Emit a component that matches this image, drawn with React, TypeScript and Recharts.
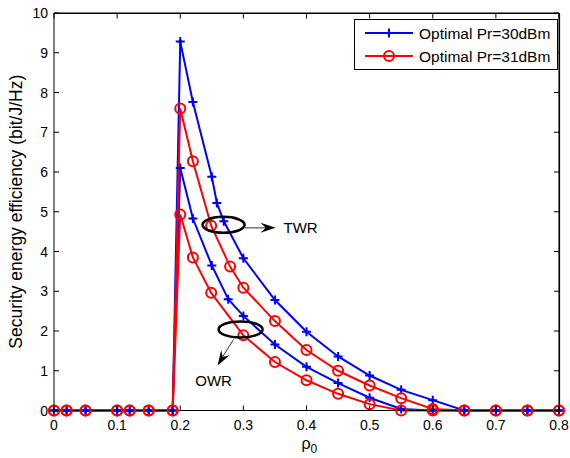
import React from "react";
import { LineChart, Line, XAxis, YAxis, ReferenceDot, CartesianGrid } from "recharts";

// valori letti a occhio dalla figura originale
const xTicks = [0, 0.1, 0.2, 0.3, 0.4, 0.5, 0.6, 0.7, 0.8];
const yTicks = [0, 1, 2, 3, 4, 5, 6, 7, 8, 9, 10];

const xBlueTwr = [0, 0.02, 0.05, 0.1, 0.12, 0.15, 0.188, 0.2, 0.22, 0.25, 0.258, 0.269, 0.3, 0.35, 0.4, 0.45, 0.5, 0.55, 0.6, 0.65, 0.7, 0.75, 0.8];
const yBlueTwr = [0, 0, 0, 0, 0, 0, 0, 9.28, 7.76, 5.88, 5.22, 4.76, 3.83, 2.78, 1.98, 1.36, 0.88, 0.52, 0.26, 0, 0, 0, 0];

const xBlueOwr = [0, 0.02, 0.05, 0.1, 0.12, 0.15, 0.188, 0.2, 0.22, 0.25, 0.276, 0.3, 0.35, 0.4, 0.45, 0.5, 0.55, 0.6, 0.65, 0.7, 0.75, 0.8];
const yBlueOwr = [0, 0, 0, 0, 0, 0, 0, 6.1, 4.83, 3.65, 2.8, 2.38, 1.66, 1.1, 0.69, 0.32, 0.04, 0, 0, 0, 0, 0];

const xRedTwr = [0, 0.02, 0.05, 0.1, 0.12, 0.15, 0.188, 0.2, 0.22, 0.249, 0.279, 0.3, 0.35, 0.4, 0.45, 0.5, 0.55, 0.6, 0.65, 0.7, 0.75, 0.8];
const yRedTwr = [0, 0, 0, 0, 0, 0, 0, 7.6, 6.27, 4.65, 3.62, 3.09, 2.25, 1.52, 1.0, 0.63, 0.31, 0.04, 0, 0, 0, 0];

const xRedOwr = [0, 0.02, 0.05, 0.1, 0.12, 0.15, 0.188, 0.2, 0.22, 0.249, 0.3, 0.35, 0.4, 0.45, 0.5, 0.55, 0.6, 0.65, 0.7, 0.75, 0.8];
const yRedOwr = [0, 0, 0, 0, 0, 0, 0, 4.93, 3.85, 2.96, 1.89, 1.22, 0.76, 0.42, 0.16, 0, 0, 0, 0, 0, 0];

const legendNames = ["Optimal Pr=30dBm", "Optimal Pr=31dBm"];

const BLUE = "#0000ff";
const RED = "#ff0000";
const FONT = "'Liberation Sans', Arial, sans-serif";

const W = 570;
const H = 458;
const M = { top: 13, right: 11, left: 10, bottom: 17.5 };
const Y_AXIS_W = 44;
const X_AXIS_H = 30;
// area del grafico, serve solo per il box (bordo sopra/destra con tacche interne)
const PL = M.left + Y_AXIS_W;
const PR = W - M.right;
const PT = M.top;
const PB = H - M.bottom - X_AXIS_H;

const zip = (xs: number[], ys: number[]) => xs.map((x, i) => ({ x, y: ys[i] }));

function StarDot(props: any) {
  const { cx, cy } = props;
  if (cx == null || cy == null) return null;
  return (
    <g>
      <path d={`M${cx - 4.5},${cy}L${cx + 4.5},${cy}M${cx},${cy - 4.5}L${cx},${cy + 4.5}`} stroke={BLUE} strokeWidth={2} />
      <path d={`M${cx - 2.5},${cy}L${cx},${cy - 2.5}L${cx + 2.5},${cy}L${cx},${cy + 2.5}Z`} fill={BLUE} />
    </g>
  );
}

function CircleDot(props: any) {
  const { cx, cy } = props;
  if (cx == null || cy == null) return null;
  return <circle cx={cx} cy={cy} r={5} fill="none" stroke={RED} strokeWidth={2} />;
}

function XTick({ x, y, payload }: any) {
  return (
    <g>
      <line x1={x} x2={x} y1={y} y2={y - 5} stroke="#000" />
      <text x={x} y={y + 19} textAnchor="middle" fontSize={14} fontFamily={FONT} fill="#000">
        {payload.value}
      </text>
    </g>
  );
}

function YTick({ x, y, payload }: any) {
  return (
    <g>
      <line x1={x} x2={x + 5} y1={y} y2={y} stroke="#000" />
      <text x={x - 6} y={y + 5} textAnchor="end" fontSize={14} fontFamily={FONT} fill="#000">
        {payload.value}
      </text>
    </g>
  );
}

function arrowHead(tx: number, ty: number, dx: number, dy: number) {
  const n = Math.hypot(dx, dy);
  const ux = dx / n;
  const uy = dy / n;
  const px = -uy;
  const py = ux;
  const L = 15;
  const Wd = 5;
  const pts = [
    [tx, ty],
    [tx - L * ux + Wd * px, ty - L * uy + Wd * py],
    [tx - 0.65 * L * ux, ty - 0.65 * L * uy],
    [tx - L * ux - Wd * px, ty - L * uy - Wd * py],
  ];
  return pts.map((p) => p.join(",")).join(" ");
}

function TwrMark({ cx, cy }: any) {
  if (cx == null) return null;
  const x0 = cx + 21;
  const x1 = cx + 52;
  const yy = cy + 3;
  return (
    <g>
      <ellipse cx={cx} cy={cy} rx={21} ry={8} fill="none" stroke="#000" strokeWidth={2.5} />
      <line x1={x0} y1={yy} x2={x1 - 8} y2={yy} stroke="#333" strokeWidth={1} />
      <polygon points={arrowHead(x1, yy, 1, 0)} fill="#000" />
      <text x={x1 + 8} y={yy + 5} fontSize={15} fontFamily={FONT} fill="#000">TWR</text>
    </g>
  );
}

function OwrMark({ cx, cy }: any) {
  if (cx == null) return null;
  const sx = cx - 7;
  const sy = cy + 10;
  const ex = cx - 23;
  const ey = cy + 36;
  return (
    <g>
      <ellipse cx={cx} cy={cy} rx={22} ry={8} fill="none" stroke="#000" strokeWidth={2.5} />
      <line x1={sx} y1={sy} x2={ex + 4} y2={ey - 7} stroke="#333" strokeWidth={1} />
      <polygon points={arrowHead(ex, ey, ex - sx, ey - sy)} fill="#000" />
      <text x={cx - 27} y={cy + 57} textAnchor="middle" fontSize={15} fontFamily={FONT} fill="#000">OWR</text>
    </g>
  );
}

function BoxFrame() {
  const xMax = xTicks[xTicks.length - 1];
  const yMax = yTicks[yTicks.length - 1];
  const px = (v: number) => PL + (v / xMax) * (PR - PL);
  const py = (v: number) => PB - (v / yMax) * (PB - PT);
  return (
    <svg width={W} height={H} style={{ position: "absolute", left: 0, top: 0, pointerEvents: "none", zIndex: 2 }}>
      <path d={`M${PL},${PT + 0.5}H${PR + 0.5}V${PB}`} fill="none" stroke="#000" strokeWidth={1.2} />
      {xTicks.map((t) => (
        <line key={`tt-${t}`} x1={px(t)} x2={px(t)} y1={PT} y2={PT + 5.5} stroke="#000" />
      ))}
      {yTicks.map((t) => (
        <line key={`rt-${t}`} x1={PR} x2={PR - 5} y1={py(t)} y2={py(t)} stroke="#000" />
      ))}
    </svg>
  );
}

function LegendBox() {
  const colors = [BLUE, RED];
  return (
    <svg width={204} height={51} style={{ display: "block" }}>
      <rect x={0.5} y={0.5} width={203} height={50} fill="#fff" stroke="#000" />
      {legendNames.map((name, i) => {
        const yy = 14 + i * 23;
        return (
          <g key={name}>
            <line x1={11} x2={59} y1={yy} y2={yy} stroke={colors[i]} strokeWidth={2} />
            {i === 0 ? <StarDot cx={35} cy={yy} /> : <CircleDot cx={35} cy={yy} />}
            <text x={65} y={yy + 5.5} fontSize={15.5} fontFamily={FONT} fill="#000">{name}</text>
          </g>
        );
      })}
    </svg>
  );
}

export default function App() {
  return (
    <div style={{ position: "absolute", left: 0, top: 0, width: W, height: H, background: "#fff" }}>
      <LineChart width={W} height={H} margin={{ ...M }}>
        {/* bordo del box anche dentro il grafico, sui valori massimi degli assi */}
        <CartesianGrid
          horizontalValues={[10]}
          verticalValues={[0.8]}
          stroke="#000"
          strokeOpacity={1}
        />
        <XAxis
          type="number"
          dataKey="x"
          domain={[0, 0.8]}
          ticks={xTicks}
          interval={0}
          tickSize={0}
          tickMargin={0}
          tickLine={false}
          tick={<XTick />}
          height={X_AXIS_H}
          stroke="#000"
          allowDuplicatedCategory={false}
          label={({ viewBox }: any) => (
            <text x={viewBox.x + viewBox.width / 2 - 5} y={449} fontSize={16} fontFamily={FONT} fill="#000">
              ρ<tspan fontSize={12} dy={4}>0</tspan>
            </text>
          )}
        />
        <YAxis
          type="number"
          domain={[0, 10]}
          ticks={yTicks}
          interval={0}
          tickSize={0}
          tickMargin={0}
          tickLine={false}
          tick={<YTick />}
          width={Y_AXIS_W}
          stroke="#000"
          label={({ viewBox }: any) => {
            const cx = 21.5;
            const cy = viewBox.y + viewBox.height / 2;
            return (
              <text x={cx} y={cy} transform={`rotate(-90 ${cx} ${cy})`} textAnchor="middle" fontSize={17.5} fontFamily={FONT} fill="#000">
                Security energy efficiency (bit/J/Hz)
              </text>
            );
          }}
        />
        <Line data={zip(xBlueTwr, yBlueTwr)} dataKey="y" stroke={BLUE} strokeWidth={2} dot={<StarDot />} isAnimationActive={false} />
        <Line data={zip(xBlueOwr, yBlueOwr)} dataKey="y" stroke={BLUE} strokeWidth={2} dot={<StarDot />} isAnimationActive={false} />
        <Line data={zip(xRedTwr, yRedTwr)} dataKey="y" stroke={RED} strokeWidth={2} dot={<CircleDot />} isAnimationActive={false} />
        <Line data={zip(xRedOwr, yRedOwr)} dataKey="y" stroke={RED} strokeWidth={2} dot={<CircleDot />} isAnimationActive={false} />
        <ReferenceDot x={0.2686} y={4.67} shape={<TwrMark />} ifOverflow="visible" />
        <ReferenceDot x={0.2956} y={2.04} shape={<OwrMark />} ifOverflow="visible" />
      </LineChart>
      <BoxFrame />
      <div style={{ position: "absolute", left: 354, top: 19, zIndex: 3 }}>
        <LegendBox />
      </div>
    </div>
  );
}
